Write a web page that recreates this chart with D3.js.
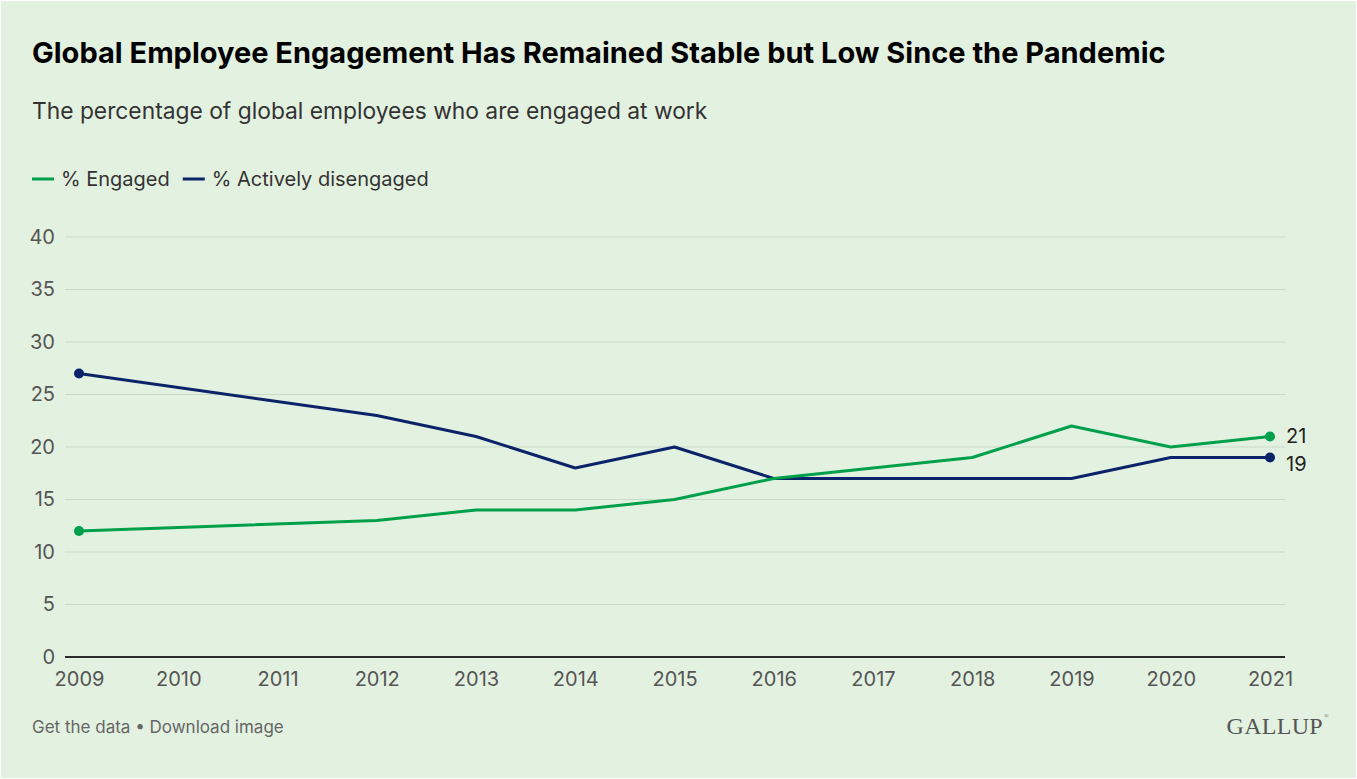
<!DOCTYPE html>
<html><head><meta charset="utf-8">
<script src="https://cdn.jsdelivr.net/npm/d3@7"></script>
<style>
html,body{margin:0;padding:0;background:#fff;}
svg{display:block;}
</style></head>
<body>
<script>
const years = [2009, 2012, 2013, 2014, 2015, 2016, 2017, 2018, 2019, 2020, 2021];
const engaged = [12, 13, 14, 14, 15, 17, 18, 19, 22, 20, 21];
const disengaged = [27, 23, 21, 18, 20, 17, 17, 17, 17, 19, 19];
const xTicks = [2009, 2010, 2011, 2012, 2013, 2014, 2015, 2016, 2017, 2018, 2019, 2020, 2021];
const yTicks = [0, 5, 10, 15, 20, 25, 30, 35, 40];
const seriesNames = ["% Engaged", "% Actively disengaged"];
const colors = ["#00a04b", "#0b2469"];

const W = 1357, H = 779;
const font = "Inter, 'Noto Sans', sans-serif";
const svg = d3.select("body").append("svg").attr("width", W).attr("height", H);
svg.append("rect").attr("x",1).attr("y",1).attr("width",W-2).attr("height",H-2).attr("fill","#e3f1e0");

svg.append("text").attr("x",32).attr("y",63).attr("font-family",font).attr("font-weight",700)
  .attr("font-size",29).attr("fill","#000").text("Global Employee Engagement Has Remained Stable but Low Since the Pandemic");
svg.append("text").attr("x",32).attr("y",119).attr("font-family",font)
  .attr("font-size",22.8).attr("fill","#333").text("The percentage of global employees who are engaged at work");

// legend
const leg = svg.append("g");
let lx = 32;
seriesNames.forEach((n,i)=>{
  leg.append("line").attr("x1",lx).attr("x2",lx+22).attr("y1",179).attr("y2",179).attr("stroke",colors[i]).attr("stroke-width",3);
  const t = leg.append("text").attr("x",lx+29).attr("y",186).attr("font-family",font).attr("font-size",20).attr("fill","#333").text(n);
  lx += 29 + t.node().getComputedTextLength() + 13;
});

const x = d3.scaleLinear().domain([2009, 2021]).range([79, 1270]);
const y = d3.scaleLinear().domain([0, 40]).range([657, 237]);

// gridlines
const grid = svg.append("g");
yTicks.forEach(v=>{
  grid.append("line").attr("x1",65).attr("x2",1285).attr("y1",y(v)).attr("y2",y(v))
    .attr("stroke", v===0 ? "#2b2b2b" : "#cbd9c8").attr("stroke-width", v===0 ? 2 : 1.2);
});
const yAxis = d3.axisLeft(y).tickValues(yTicks).tickSize(0).tickPadding(0);
const gy = svg.append("g").attr("transform","translate(55,0)").call(yAxis);
gy.select(".domain").remove();
gy.selectAll("text").attr("font-family",font).attr("font-size",20).attr("fill","#555");

const xAxis = d3.axisBottom(x).tickValues(xTicks).tickFormat(d3.format("d")).tickSize(0).tickPadding(0);
const gx = svg.append("g").attr("transform","translate(0,671)").call(xAxis);
gx.select(".domain").remove();
gx.selectAll("text").attr("font-family",font).attr("font-size",20).attr("fill","#555").attr("dy","0.75em");

const line = d3.line().x(d=>x(d[0])).y(d=>y(d[1]));
const series = [disengaged, engaged];
const sColors = [colors[1], colors[0]];
series.forEach((s,i)=>{
  const pts = years.map((yr,j)=>[yr, s[j]]);
  svg.append("path").datum(pts).attr("d",line).attr("fill","none").attr("stroke",sColors[i]).attr("stroke-width",3).attr("stroke-linejoin","round");
  [pts[0], pts[pts.length-1]].forEach(p=>{
    svg.append("circle").attr("cx",x(p[0])).attr("cy",y(p[1])).attr("r",5).attr("fill",sColors[i]);
  });
  const last = pts[pts.length-1];
  svg.append("text").attr("x",x(last[0])+16).attr("y",y(last[1]) + (i===1 ? -1 : 6)).attr("dy","0.35em")
    .attr("font-family",font).attr("font-size",20).attr("fill","#222").text(last[1]);
});

svg.append("text").attr("x",32).attr("y",733).attr("font-family",font).attr("font-size",17).attr("fill","#666").text("Get the data • Download image");
svg.append("text").attr("x",1323).attr("y",734).attr("text-anchor","end").attr("font-family","'Liberation Serif', 'DejaVu Serif', serif")
  .attr("font-size",24).attr("fill","#555").attr("letter-spacing",0.3).text("GALLUP");
svg.append("text").attr("x",1324).attr("y",718).attr("font-family","'Liberation Serif', serif").attr("font-size",6).attr("fill","#555").text("®");
</script>
</body></html>
